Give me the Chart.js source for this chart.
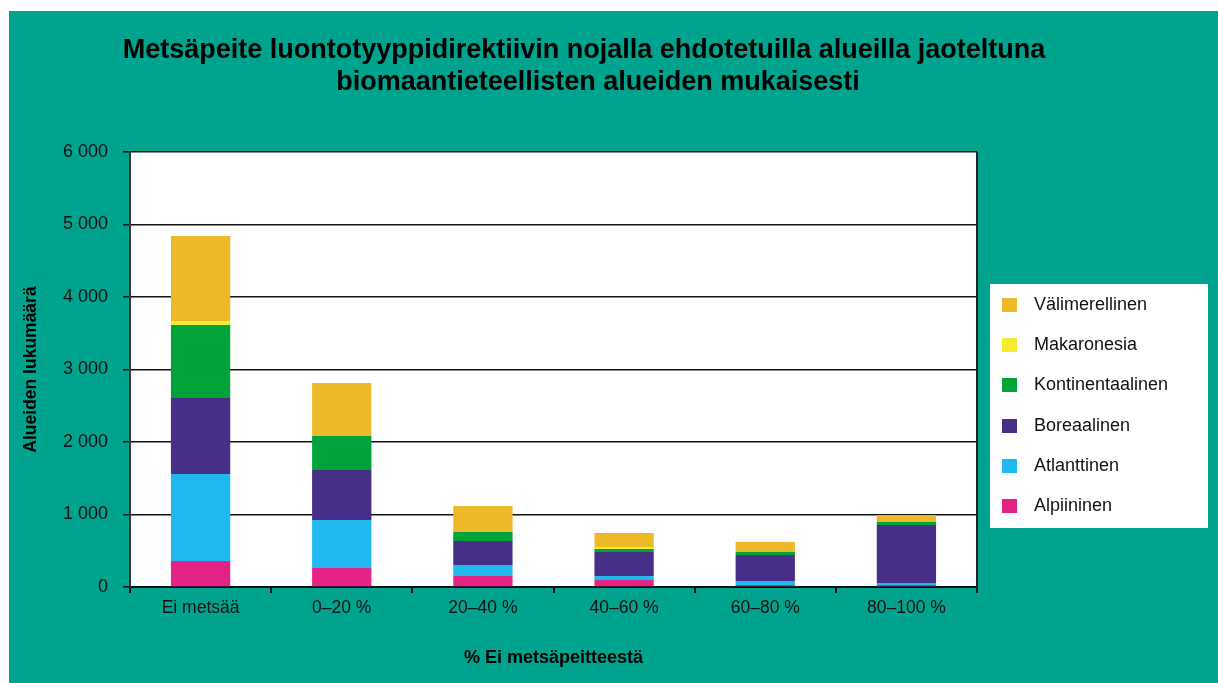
<!DOCTYPE html>
<html>
<head>
<meta charset="utf-8">
<script src="https://cdn.jsdelivr.net/npm/chart.js@4/dist/chart.umd.min.js"></script>
<style>
  html, body { margin: 0; padding: 0; background: #ffffff; }
  canvas { display: block; }
</style>
</head>
<body>
<canvas id="c" width="1218" height="683"></canvas>
<script>
const TITLE_LINES = [
  "Metsäpeite luontotyyppidirektiivin nojalla ehdotetuilla alueilla jaoteltuna",
  "biomaantieteellisten alueiden mukaisesti"
];
const X_TITLE = "% Ei metsäpeitteestä";
const Y_TITLE = "Alueiden lukumäärä";
const CATEGORIES = ["Ei metsää", "0\u201320 %", "20\u201340 %", "40\u201360 %", "60\u201380 %", "80\u2013100 %"];
const SERIES_NAMES = ["Alpiininen", "Atlanttinen", "Boreaalinen", "Kontinentaalinen", "Makaronesia", "Välimerellinen"];
const ALPIININEN       = [359, 262, 152, 97, 28, 28];
const ATLANTTINEN      = [1200, 662, 152, 55, 55, 28];
const BOREAALINEN      = [1048, 690, 331, 331, 359, 800];
const KONTINENTAALINEN = [1007, 469, 124, 41, 41, 41];
const MAKARONESIA      = [55, 0, 0, 28, 0, 0];
const VALIMERELLINEN   = [1172, 731, 359, 193, 138, 97];
const Y_TICKS = [0, 1000, 2000, 3000, 4000, 5000, 6000];

const SERIES_VALUES = [ALPIININEN, ATLANTTINEN, BOREAALINEN, KONTINENTAALINEN, MAKARONESIA, VALIMERELLINEN];
const COLORS = ["#E42386", "#1FB8EF", "#472E87", "#00A33A", "#F4EC31", "#EEB929"];
const TEAL = "#00A38D";
const FONT = "'Liberation Sans', Arial, sans-serif";

function fmt(v) { return String(v).replace(/\B(?=(\d{3})+(?!\d))/g, " "); }

const bgPlugin = {
  id: "bg",
  beforeDraw(chart) {
    const ctx = chart.ctx;
    ctx.save();
    ctx.fillStyle = "#ffffff";
    ctx.fillRect(0, 0, chart.width, chart.height);
    ctx.fillStyle = TEAL;
    ctx.fillRect(9, 11, chart.width - 9, chart.height - 11);
    const a = chart.chartArea;
    ctx.fillStyle = "#ffffff";
    ctx.fillRect(a.left, a.top, a.right - a.left, a.bottom - a.top);
    // title
    ctx.fillStyle = "#000000";
    ctx.font = "bold 27px " + FONT;
    ctx.textAlign = "center";
    ctx.textBaseline = "alphabetic";
    const xs = [584, 598];
    const ys = [58, 90];
    TITLE_LINES.forEach((t, i) => ctx.fillText(t, xs[i], ys[i]));
    ctx.restore();
  },
  afterDatasetsDraw(chart) {
    const ctx = chart.ctx;
    const a = chart.chartArea;
    ctx.save();
    ctx.strokeStyle = "#222222";
    ctx.lineWidth = 2;
    ctx.beginPath();
    ctx.moveTo(a.right, a.top);
    ctx.lineTo(a.right, a.bottom + 6);
    ctx.stroke();
    ctx.restore();
  },
  afterDraw(chart) {
    const ctx = chart.ctx;
    ctx.save();
    ctx.fillStyle = "#ffffff";
    ctx.fillRect(990, 284, 218, 244);
    ctx.font = "18px " + FONT;
    ctx.textAlign = "left";
    ctx.textBaseline = "middle";
    const ds = chart.data.datasets.slice().reverse();
    ds.forEach((d, i) => {
      const cy = 305 + i * 40.2;
      ctx.fillStyle = d.backgroundColor;
      ctx.fillRect(1002, Math.round(cy - 7), 15, 14);
      ctx.fillStyle = "#111111";
      ctx.fillText(d.label, 1034, cy);
    });
    ctx.restore();
  }
};

new Chart(document.getElementById("c"), {
  type: "bar",
  data: {
    labels: CATEGORIES,
    datasets: SERIES_NAMES.map((n, i) => ({
      label: n,
      data: SERIES_VALUES[i],
      backgroundColor: COLORS[i],
      borderWidth: 0,
      categoryPercentage: 0.42,
      barPercentage: 1.0
    }))
  },
  options: {
    responsive: false,
    animation: false,
    devicePixelRatio: 1,
    layout: { padding: { top: 152, right: 241, bottom: 0, left: 0 } },
    plugins: {
      legend: { display: false },
      title: { display: false },
      tooltip: { enabled: false }
    },
    scales: {
      x: {
        stacked: true,
        afterFit(s) { s.height = 96; },
        grid: { display: true, drawOnChartArea: false, drawTicks: true, tickLength: 6, color: "#111111", lineWidth: 2, offset: true },
        border: { display: true, color: "#111111", width: 2 },
        ticks: { color: "#111111", font: { family: FONT, size: 17.5 }, padding: 5, maxRotation: 0 },
        title: { display: true, text: X_TITLE, color: "#000000", font: { family: FONT, size: 18, weight: "bold" }, padding: { top: 0, bottom: 14 } }
      },
      y: {
        stacked: true,
        min: 0,
        max: 6000,
        afterFit(s) { s.width = 130; },
        afterBuildTicks(s) { s.ticks = Y_TICKS.map(v => ({ value: v })); },
        grid: { color: "#111111", lineWidth: 1.6, tickLength: 7, drawTicks: true },
        border: { display: true, color: "#333333", width: 2 },
        ticks: { color: "#111111", font: { family: FONT, size: 18 }, padding: 15, callback: v => fmt(v) },
        title: { display: true, text: Y_TITLE, color: "#000000", font: { family: FONT, size: 17.5, weight: "bold" }, padding: { top: 20.5, bottom: 0 } }
      }
    }
  },
  plugins: [bgPlugin]
});
</script>
</body>
</html>
